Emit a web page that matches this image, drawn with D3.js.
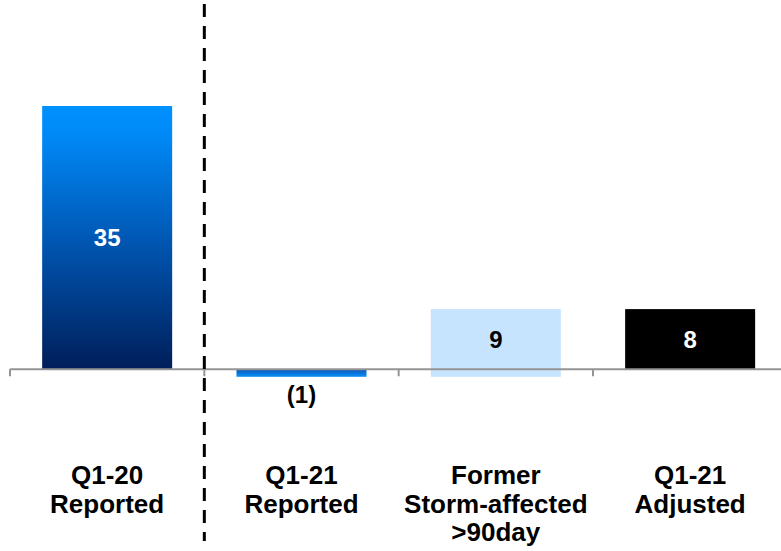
<!DOCTYPE html>
<html><head><meta charset="utf-8">
<script src="https://cdn.jsdelivr.net/npm/d3@7"></script>
<style>html,body{margin:0;padding:0;background:#fff;}svg{display:block;}</style>
</head><body>
<svg id="c" width="781" height="551"></svg>
<script>
const categories = [["Q1-20","Reported"],["Q1-21","Reported"],["Former","Storm-affected",">90day"],["Q1-21","Adjusted"]];
const catKeys = ["Q1-20 Reported","Q1-21 Reported","Former Storm-affected >90day","Q1-21 Adjusted"];
const barStart = [0, 0, -1, 0];
const barEnd = [35, -1, 8, 8];
const valueLabels = ["35","(1)","9","8"];
const fills = ["url(#g1)","url(#g2)","#C6E4FD","#000000"];
const labelColors = ["#ffffff","#000000","#000000","#ffffff"];

const svg = d3.select("#c");
const defs = svg.append("defs");
const g1 = defs.append("linearGradient").attr("id","g1").attr("x1",0).attr("y1",0).attr("x2",0).attr("y2",1);
[[0,"#0091FF"],[0.12,"#0088F5"],[0.5,"#0058B5"],[1,"#001E5A"]].forEach(s=>g1.append("stop").attr("offset",s[0]).attr("stop-color",s[1]));
const g2 = defs.append("linearGradient").attr("id","g2").attr("x1",0).attr("y1",0).attr("x2",0).attr("y2",1);
[[0,"#0A58B8"],[1,"#0A90F8"]].forEach(s=>g2.append("stop").attr("offset",s[0]).attr("stop-color",s[1]));

const x = d3.scaleBand().domain(catKeys).range([10, 787.3]).paddingInner(0.331).paddingOuter(0.1655);
const y = d3.scaleLinear().domain([-1, 35]).range([376.8, 106]);

// bars
svg.selectAll("rect.bar").data(catKeys).join("rect")
  .attr("class","bar")
  .attr("x", d=>x(d))
  .attr("width", x.bandwidth())
  .attr("y", (d,i)=>y(Math.max(barStart[i], barEnd[i])))
  .attr("height", (d,i)=>Math.abs(y(barStart[i]) - y(barEnd[i])))
  .attr("fill", (d,i)=>fills[i]);

// axis line and ticks
const y0 = y(0);
svg.append("line").attr("x1",10).attr("x2",781).attr("y1",y0).attr("y2",y0)
  .attr("stroke","#949494").attr("stroke-width",2);
const step = x.step();
const tickXs = catKeys.map(d=> x(d) - x.paddingOuter()*step);
tickXs.forEach(t=>{
  svg.append("line").attr("x1",t).attr("x2",t).attr("y1",y0).attr("y2",y0+7)
    .attr("stroke","#949494").attr("stroke-width",2);
});

// dashed separator (at the boundary between first and second category)
svg.append("line").attr("x1",tickXs[1]).attr("x2",tickXs[1]).attr("y1",4).attr("y2",541)
  .attr("stroke","#000").attr("stroke-width",3).attr("stroke-dasharray","13,9");

// value labels
const font = "'Liberation Sans', Arial, Helvetica, sans-serif";
svg.selectAll("text.val").data(catKeys).join("text")
  .attr("class","val")
  .attr("x", d=>x(d)+x.bandwidth()/2)
  .attr("y", (d,i)=>{
    if (i===1) return y(-1) + 26;
    const top = y(Math.max(barStart[i], barEnd[i]));
    const bot = i===2 ? y(0) : y(Math.min(barStart[i], barEnd[i]));
    return (top+bot)/2 + 8.5;
  })
  .attr("text-anchor","middle")
  .attr("font-family", font).attr("font-weight","bold").attr("font-size",24)
  .attr("fill",(d,i)=>labelColors[i])
  .text((d,i)=>valueLabels[i]);

// category labels
catKeys.forEach((k,i)=>{
  const t = svg.append("text")
    .attr("x", x(k)+x.bandwidth()/2).attr("y", 484)
    .attr("text-anchor","middle")
    .attr("font-family", font).attr("font-weight","bold").attr("font-size",26)
    .attr("fill","#000");
  categories[i].forEach((line,j)=>{
    t.append("tspan").attr("x", x(k)+x.bandwidth()/2).attr("y", 484 + j*28.5).text(line);
  });
});
</script>
</body></html>
